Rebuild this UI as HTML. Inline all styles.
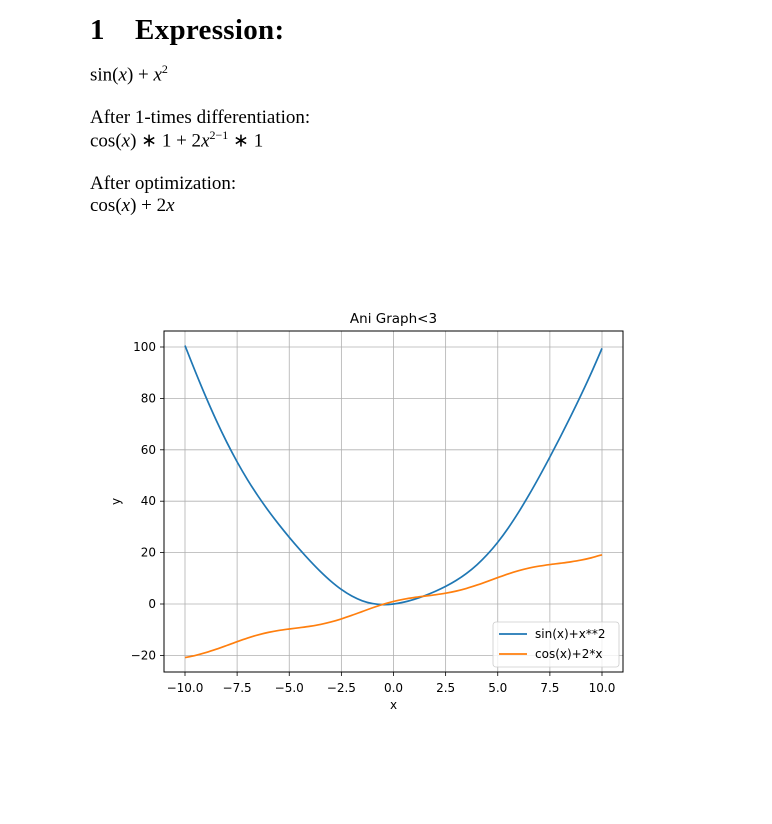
<!DOCTYPE html>
<html><head><meta charset="utf-8"><style>
body{margin:0;background:#fff;width:772px;height:824px;position:relative;overflow:hidden;font-family:"Liberation Serif",serif;color:#000}
.t{position:absolute;white-space:nowrap}
i{font-style:italic}
svg text{font-family:"DejaVu Sans","Liberation Sans",sans-serif;fill:#000}
</style></head><body>
<div class="t" style="left:90px;top:14px;font-size:29px;font-weight:bold;letter-spacing:0.3px">1&nbsp;&nbsp;&nbsp;&nbsp;Expression:</div>
<div class="t" style="left:90px;top:62px;font-size:19px">sin(<i>x</i>) + <i>x</i><sup style="font-size:12px">2</sup></div>
<div class="t" style="left:90px;top:107px;font-size:19px">After 1-times differentiation:</div>
<div class="t" style="left:90px;top:128px;font-size:19px">cos(<i>x</i>) ∗ 1 + 2<i>x</i><sup style="font-size:12px">2−1</sup> ∗ 1</div>
<div class="t" style="left:90px;top:173px;font-size:19px">After optimization:</div>
<div class="t" style="left:90px;top:195px;font-size:19px">cos(<i>x</i>) + 2<i>x</i></div>
<svg id="chart" width="772" height="824" style="position:absolute;left:0;top:0"></svg>
<script>
const xs=[-10,-9.5,-9,-8.5,-8,-7.5,-7,-6.5,-6,-5.5,-5,-4.5,-4,-3.5,-3,-2.5,-2,-1.5,-1,-0.5,0,0.5,1,1.5,2,2.5,3,3.5,4,4.5,5,5.5,6,6.5,7,7.5,8,8.5,9,9.5,10];
const seriesA=[100.54,90.33,80.59,71.45,63.01,55.31,48.34,42.04,36.28,30.96,25.96,21.23,16.76,12.6,8.86,5.65,3.09,1.25,0.16,-0.23,0,0.73,1.84,3.25,4.91,6.85,9.14,11.9,15.24,19.27,24.04,29.54,35.72,42.47,49.66,57.19,64.99,73.05,81.41,90.17,99.46];
const seriesB=[-20.84,-20.0,-18.91,-17.6,-16.15,-14.65,-13.25,-12.02,-11.04,-10.29,-9.72,-9.21,-8.65,-7.94,-6.99,-5.8,-4.42,-2.93,-1.46,-0.12,1,1.88,2.54,3.07,3.58,4.2,5.01,6.06,7.35,8.79,10.28,11.71,12.96,13.98,14.75,15.35,15.85,16.4,17.09,18.0,19.16];
const xTicks=[-10,-7.5,-5,-2.5,0,2.5,5,7.5,10];
const xTickLabels=["−10.0","−7.5","−5.0","−2.5","0.0","2.5","5.0","7.5","10.0"];
const yTicks=[-20,0,20,40,60,80,100];
const yTickLabels=["−20","0","20","40","60","80","100"];
const seriesNames=["sin(x)+x**2","cos(x)+2*x"];
const L=164,R=623,T=331,B=672;
const sx=v=>185+(v+10)*(602-185)/20;
const sy=v=>604-v*(604-347)/100;
const svg=document.getElementById('chart');const NS='http://www.w3.org/2000/svg';
function mk(tag,at,parent){const e=document.createElementNS(NS,tag);for(const k in at)e.setAttribute(k,at[k]);(parent||svg).appendChild(e);return e;}
xTicks.forEach((v,i)=>{
 const g=mk('line',{x1:sx(v),x2:sx(v),y1:T,y2:B,stroke:'#b0b0b0','stroke-width':0.8});
 
 
 mk('line',{x1:sx(v),x2:sx(v),y1:B,y2:B+4,stroke:'#000','stroke-width':0.8});
 const t=mk('text',{x:sx(v),y:B+20,'font-size':12,'text-anchor':'middle'});t.textContent=xTickLabels[i];
 
 
});
yTicks.forEach((v,i)=>{
 const g=mk('line',{x1:L,x2:R,y1:sy(v),y2:sy(v),stroke:'#b0b0b0','stroke-width':0.8});
 
 
 mk('line',{x1:L-4,x2:L,y1:sy(v),y2:sy(v),stroke:'#000','stroke-width':0.8});
 const t=mk('text',{x:L-8,y:sy(v)+4,'font-size':12,'text-anchor':'end'});t.textContent=yTickLabels[i];
 
 
});
function path(vals){const p=xs.map((x,i)=>[sx(x),sy(vals[i])]);let d='M'+p[0][0]+','+p[0][1];
 for(let i=0;i<p.length-1;i++){const p0=p[i-1]||p[i],p1=p[i],p2=p[i+1],p3=p[i+2]||p[i+1];
  d+=' C'+(p1[0]+(p2[0]-p0[0])/6)+','+(p1[1]+(p2[1]-p0[1])/6)+' '+(p2[0]-(p3[0]-p1[0])/6)+','+(p2[1]-(p3[1]-p1[1])/6)+' '+p2[0]+','+p2[1];}
 return d;}
const la=mk('path',{d:path(seriesA),fill:'none',stroke:'#1f77b4','stroke-width':1.7});


const lb=mk('path',{d:path(seriesB),fill:'none',stroke:'#ff7f0e','stroke-width':1.7});


const fr=mk('rect',{x:L,y:T,width:R-L,height:B-T,fill:'none',stroke:'#000','stroke-width':1});


const title=mk('text',{x:(L+R)/2,y:T-8,'font-size':13.5,'text-anchor':'middle'});title.textContent='Ani Graph<3';


const xl=mk('text',{x:(L+R)/2,y:B+37,'font-size':12,'text-anchor':'middle'});xl.textContent='x';


const yl=mk('text',{x:0,y:0,'font-size':12,'text-anchor':'middle',transform:'translate(120,'+((T+B)/2)+') rotate(-90)'});yl.textContent='y';


const lg=mk('rect',{x:493,y:622,width:126,height:45,rx:3,fill:'#fff','fill-opacity':0.8,stroke:'#ccc','stroke-width':0.8});


const cols=['#1f77b4','#ff7f0e'];
seriesNames.forEach((n,i)=>{const y=634+i*20;
 mk('line',{x1:499,x2:527,y1:y,y2:y,stroke:cols[i],'stroke-width':1.7});
 const t=mk('text',{x:535,y:y+4,'font-size':12});t.textContent=n;
 
 
});
</script>
</body></html>
